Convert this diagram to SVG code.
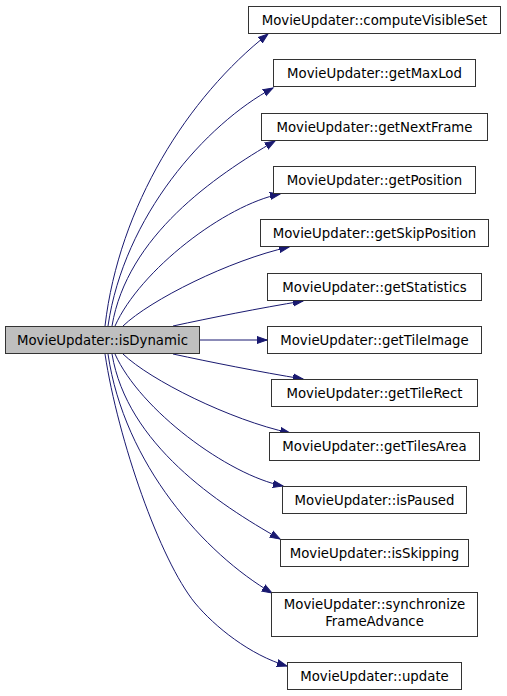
<svg xmlns="http://www.w3.org/2000/svg" width="507" height="696" viewBox="0 0 507 696">
<style>
.n rect{fill:#ffffff;stroke:#333333;stroke-width:1}
.n.root rect{fill:#bfbfbf}
.n text{font-family:"DejaVu Sans","Liberation Sans",sans-serif;font-size:13.3px;fill:#000000;text-anchor:middle}
.e path{fill:none;stroke:#191970;stroke-width:1;marker-end:url(#ah)}
</style>
<defs>
<marker id="ah" markerUnits="userSpaceOnUse" markerWidth="12" markerHeight="9" refX="10" refY="4.5" orient="auto" viewBox="0 0 12 9">
<path d="M0,1 L10,4.5 L0,8 Z" fill="#191970" stroke="#191970" stroke-width="1"/>
</marker>
</defs>
<rect width="507" height="696" fill="#ffffff"/>
<g id="edges" class="e">
<path d="M105,326 C119,206 188,97 268,34"/>
<path d="M108,326 C124,216 206,124 273,88"/>
<path d="M112,326 C127,236 215,176 275,141"/>
<path d="M115,326 C140,270 225,205 280,194"/>
<path d="M123,326 C150,300 230,260 289,247"/>
<path d="M173,326 C210,318 260,308 303,301"/>
<path d="M200,340 L267,340"/>
<path d="M173,354 C210,362 260,372 303,379"/>
<path d="M123,354 C150,380 230,420 290,433"/>
<path d="M115,354 C140,410 228,475 283,486"/>
<path d="M112,354 C127,444 218,504 280,539"/>
<path d="M108,354 C124,464 205,554 272,593"/>
<path d="M105,354 C118,440 160,560 195,603 C215,627 250,655 287,666"/>
</g>
<g id="isDynamic" class="n root"><rect x="5.5" y="326.5" width="194" height="27"/><text x="102.5" y="344.5">MovieUpdater::isDynamic</text></g>
<g id="computeVisibleSet" class="n"><rect x="248.5" y="6.5" width="252" height="27"/><text x="374.5" y="24.5">MovieUpdater::computeVisibleSet</text></g>
<g id="getMaxLod" class="n"><rect x="273.5" y="59.5" width="202" height="27"/><text x="374.5" y="77.5">MovieUpdater::getMaxLod</text></g>
<g id="getNextFrame" class="n"><rect x="261.5" y="113.5" width="226" height="27"/><text x="374.5" y="131.5">MovieUpdater::getNextFrame</text></g>
<g id="getPosition" class="n"><rect x="273.5" y="166.5" width="202" height="27"/><text x="374.5" y="184.5">MovieUpdater::getPosition</text></g>
<g id="getSkipPosition" class="n"><rect x="260.5" y="219.5" width="228" height="27"/><text x="374.5" y="237.5">MovieUpdater::getSkipPosition</text></g>
<g id="getStatistics" class="n"><rect x="267.5" y="273.5" width="214" height="27"/><text x="374.5" y="291.5">MovieUpdater::getStatistics</text></g>
<g id="getTileImage" class="n"><rect x="267.5" y="326.5" width="214" height="27"/><text x="374.5" y="344.5">MovieUpdater::getTileImage</text></g>
<g id="getTileRect" class="n"><rect x="271.5" y="379.5" width="206" height="27"/><text x="374.5" y="397.5">MovieUpdater::getTileRect</text></g>
<g id="getTilesArea" class="n"><rect x="269.5" y="432.5" width="210" height="28"/><text x="374.5" y="451">MovieUpdater::getTilesArea</text></g>
<g id="isPaused" class="n"><rect x="282.5" y="486.5" width="184" height="27"/><text x="374.5" y="504.5">MovieUpdater::isPaused</text></g>
<g id="isSkipping" class="n"><rect x="280.5" y="539.5" width="188" height="27"/><text x="374.5" y="557.5">MovieUpdater::isSkipping</text></g>
<g id="synchronizeFrameAdvance" class="n"><rect x="271.5" y="592.5" width="206" height="44"/><text x="374.5" y="608.5">MovieUpdater::synchronize</text><text x="374.5" y="625.5">FrameAdvance</text></g>
<g id="update" class="n"><rect x="287.5" y="662.5" width="174" height="27"/><text x="374.5" y="680.5">MovieUpdater::update</text></g>
</svg>
